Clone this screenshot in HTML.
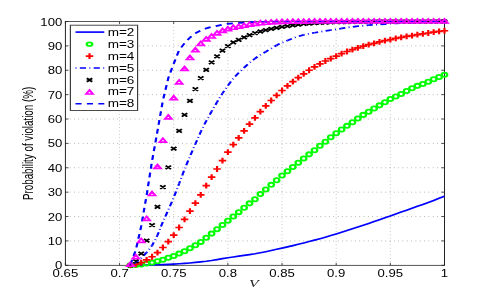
<!DOCTYPE html>
<html><head><meta charset="utf-8"><title>Probability of violation</title>
<style>html,body{margin:0;padding:0;background:#fff;overflow:hidden}body{width:491px;height:300px;font-family:"Liberation Sans",sans-serif}</style></head>
<body>
<svg width="491" height="300" viewBox="0 0 380.620 300" preserveAspectRatio="none" style="display:block;will-change:transform">
<rect x="0" y="0" width="380.620" height="300" fill="#fff"/>
<path d="M92.68 265.3 V21.5 M134.66 265.3 V21.5 M176.64 265.3 V21.5 M218.63 265.3 V21.5 M260.61 265.3 V21.5 M302.59 265.3 V21.5 M50.70 240.92 H344.57 M50.70 216.54 H344.57 M50.70 192.16 H344.57 M50.70 167.78 H344.57 M50.70 143.40 H344.57 M50.70 119.02 H344.57 M50.70 94.64 H344.57 M50.70 70.26 H344.57 M50.70 45.88 H344.57" fill="none" stroke="#000" stroke-opacity="0.45" stroke-width="0.6" stroke-dasharray="0.7 2.65"/>
<path d="M50.70 265.3v-2.4M50.70 21.5v2.4 M92.68 265.3v-2.4M92.68 21.5v2.4 M134.66 265.3v-2.4M134.66 21.5v2.4 M176.64 265.3v-2.4M176.64 21.5v2.4 M218.63 265.3v-2.4M218.63 21.5v2.4 M260.61 265.3v-2.4M260.61 21.5v2.4 M302.59 265.3v-2.4M302.59 21.5v2.4 M344.57 265.3v-2.4M344.57 21.5v2.4 M50.70 265.30h2.4M344.57 265.30h-2.4 M50.70 240.92h2.4M344.57 240.92h-2.4 M50.70 216.54h2.4M344.57 216.54h-2.4 M50.70 192.16h2.4M344.57 192.16h-2.4 M50.70 167.78h2.4M344.57 167.78h-2.4 M50.70 143.40h2.4M344.57 143.40h-2.4 M50.70 119.02h2.4M344.57 119.02h-2.4 M50.70 94.64h2.4M344.57 94.64h-2.4 M50.70 70.26h2.4M344.57 70.26h-2.4 M50.70 45.88h2.4M344.57 45.88h-2.4 M50.70 21.50h2.4M344.57 21.50h-2.4" fill="none" stroke="#111" stroke-width="0.65"/>
<rect x="50.70" y="21.5" width="293.88" height="243.8" fill="none" stroke="#1c1c1c" stroke-width="0.74"/>
<g>
<path d="M101.08 265.29 L105.27 265.24 L109.47 265.18 L113.67 265.09 L117.87 264.95 L122.07 264.77 L126.27 264.57 L130.46 264.34 L134.66 264.08 L138.86 263.78 L143.06 263.40 L147.26 262.95 L151.46 262.44 L155.65 261.88 L159.85 261.28 L164.05 260.53 L168.25 259.62 L172.45 258.65 L176.64 257.74 L180.84 256.94 L185.04 256.18 L189.24 255.43 L193.44 254.64 L197.64 253.76 L201.83 252.77 L206.03 251.69 L210.23 250.53 L214.43 249.33 L218.63 248.11 L222.83 246.88 L227.02 245.60 L231.22 244.29 L235.42 242.95 L239.62 241.57 L243.82 240.15 L248.01 238.69 L252.21 237.17 L256.41 235.59 L260.61 233.97 L264.81 232.31 L269.01 230.60 L273.20 228.85 L277.40 227.07 L281.60 225.27 L285.80 223.44 L290.00 221.60 L294.19 219.73 L298.39 217.81 L302.59 215.88 L306.79 213.96 L310.99 212.07 L315.19 210.18 L319.38 208.27 L323.58 206.35 L327.78 204.39 L331.98 202.40 L336.18 200.39 L340.38 198.36 L344.57 196.30" fill="none" stroke="#0000ff" stroke-width="1.65" stroke-linejoin="round"/>
<circle cx="101.08" cy="265.30" r="2.12" fill="none" stroke="#00ff00" stroke-width="1.8"/><circle cx="105.27" cy="265.06" r="2.12" fill="none" stroke="#00ff00" stroke-width="1.8"/><circle cx="109.47" cy="264.57" r="2.12" fill="none" stroke="#00ff00" stroke-width="1.8"/><circle cx="113.67" cy="263.59" r="2.12" fill="none" stroke="#00ff00" stroke-width="1.8"/><circle cx="117.87" cy="262.62" r="2.12" fill="none" stroke="#00ff00" stroke-width="1.8"/><circle cx="122.07" cy="261.16" r="2.12" fill="none" stroke="#00ff00" stroke-width="1.8"/><circle cx="126.27" cy="259.69" r="2.12" fill="none" stroke="#00ff00" stroke-width="1.8"/><circle cx="130.46" cy="257.74" r="2.12" fill="none" stroke="#00ff00" stroke-width="1.8"/><circle cx="134.66" cy="255.91" r="2.12" fill="none" stroke="#00ff00" stroke-width="1.8"/><circle cx="138.86" cy="253.60" r="2.12" fill="none" stroke="#00ff00" stroke-width="1.8"/><circle cx="143.06" cy="251.16" r="2.12" fill="none" stroke="#00ff00" stroke-width="1.8"/><circle cx="147.26" cy="248.23" r="2.12" fill="none" stroke="#00ff00" stroke-width="1.8"/><circle cx="151.46" cy="245.19" r="2.12" fill="none" stroke="#00ff00" stroke-width="1.8"/><circle cx="155.65" cy="241.90" r="2.12" fill="none" stroke="#00ff00" stroke-width="1.8"/><circle cx="159.85" cy="237.75" r="2.12" fill="none" stroke="#00ff00" stroke-width="1.8"/><circle cx="164.05" cy="233.61" r="2.12" fill="none" stroke="#00ff00" stroke-width="1.8"/><circle cx="168.25" cy="229.22" r="2.12" fill="none" stroke="#00ff00" stroke-width="1.8"/><circle cx="172.45" cy="225.07" r="2.12" fill="none" stroke="#00ff00" stroke-width="1.8"/><circle cx="176.64" cy="220.68" r="2.12" fill="none" stroke="#00ff00" stroke-width="1.8"/><circle cx="180.84" cy="216.54" r="2.12" fill="none" stroke="#00ff00" stroke-width="1.8"/><circle cx="185.04" cy="212.15" r="2.12" fill="none" stroke="#00ff00" stroke-width="1.8"/><circle cx="189.24" cy="207.76" r="2.12" fill="none" stroke="#00ff00" stroke-width="1.8"/><circle cx="193.44" cy="203.37" r="2.12" fill="none" stroke="#00ff00" stroke-width="1.8"/><circle cx="197.64" cy="199.23" r="2.12" fill="none" stroke="#00ff00" stroke-width="1.8"/><circle cx="201.83" cy="194.11" r="2.12" fill="none" stroke="#00ff00" stroke-width="1.8"/><circle cx="206.03" cy="189.48" r="2.12" fill="none" stroke="#00ff00" stroke-width="1.8"/><circle cx="210.23" cy="184.85" r="2.12" fill="none" stroke="#00ff00" stroke-width="1.8"/><circle cx="214.43" cy="180.21" r="2.12" fill="none" stroke="#00ff00" stroke-width="1.8"/><circle cx="218.63" cy="175.58" r="2.12" fill="none" stroke="#00ff00" stroke-width="1.8"/><circle cx="222.83" cy="171.19" r="2.12" fill="none" stroke="#00ff00" stroke-width="1.8"/><circle cx="227.02" cy="167.05" r="2.12" fill="none" stroke="#00ff00" stroke-width="1.8"/><circle cx="231.22" cy="162.66" r="2.12" fill="none" stroke="#00ff00" stroke-width="1.8"/><circle cx="235.42" cy="158.52" r="2.12" fill="none" stroke="#00ff00" stroke-width="1.8"/><circle cx="239.62" cy="154.37" r="2.12" fill="none" stroke="#00ff00" stroke-width="1.8"/><circle cx="243.82" cy="150.23" r="2.12" fill="none" stroke="#00ff00" stroke-width="1.8"/><circle cx="248.01" cy="145.84" r="2.12" fill="none" stroke="#00ff00" stroke-width="1.8"/><circle cx="252.21" cy="141.69" r="2.12" fill="none" stroke="#00ff00" stroke-width="1.8"/><circle cx="256.41" cy="137.31" r="2.12" fill="none" stroke="#00ff00" stroke-width="1.8"/><circle cx="260.61" cy="133.16" r="2.12" fill="none" stroke="#00ff00" stroke-width="1.8"/><circle cx="264.81" cy="129.50" r="2.12" fill="none" stroke="#00ff00" stroke-width="1.8"/><circle cx="269.01" cy="125.85" r="2.12" fill="none" stroke="#00ff00" stroke-width="1.8"/><circle cx="273.20" cy="122.19" r="2.12" fill="none" stroke="#00ff00" stroke-width="1.8"/><circle cx="277.40" cy="118.53" r="2.12" fill="none" stroke="#00ff00" stroke-width="1.8"/><circle cx="281.60" cy="114.88" r="2.12" fill="none" stroke="#00ff00" stroke-width="1.8"/><circle cx="285.80" cy="111.71" r="2.12" fill="none" stroke="#00ff00" stroke-width="1.8"/><circle cx="290.00" cy="108.54" r="2.12" fill="none" stroke="#00ff00" stroke-width="1.8"/><circle cx="294.19" cy="105.37" r="2.12" fill="none" stroke="#00ff00" stroke-width="1.8"/><circle cx="298.39" cy="102.20" r="2.12" fill="none" stroke="#00ff00" stroke-width="1.8"/><circle cx="302.59" cy="99.03" r="2.12" fill="none" stroke="#00ff00" stroke-width="1.8"/><circle cx="306.79" cy="96.59" r="2.12" fill="none" stroke="#00ff00" stroke-width="1.8"/><circle cx="310.99" cy="93.91" r="2.12" fill="none" stroke="#00ff00" stroke-width="1.8"/><circle cx="315.19" cy="90.98" r="2.12" fill="none" stroke="#00ff00" stroke-width="1.8"/><circle cx="319.38" cy="88.30" r="2.12" fill="none" stroke="#00ff00" stroke-width="1.8"/><circle cx="323.58" cy="85.86" r="2.12" fill="none" stroke="#00ff00" stroke-width="1.8"/><circle cx="327.78" cy="83.91" r="2.12" fill="none" stroke="#00ff00" stroke-width="1.8"/><circle cx="331.98" cy="81.72" r="2.12" fill="none" stroke="#00ff00" stroke-width="1.8"/><circle cx="336.18" cy="79.28" r="2.12" fill="none" stroke="#00ff00" stroke-width="1.8"/><circle cx="340.38" cy="77.09" r="2.12" fill="none" stroke="#00ff00" stroke-width="1.8"/><circle cx="344.57" cy="74.65" r="2.12" fill="none" stroke="#00ff00" stroke-width="1.8"/>
<path d="M98.18 265.18H103.98M101.08 262.28V268.08M102.37 264.32H108.17M105.27 261.42V267.22M106.57 262.62H112.37M109.47 259.72V265.52M110.77 259.94H116.57M113.67 257.04V262.84M114.97 256.77H120.77M117.87 253.87V259.67M119.17 252.62H124.97M122.07 249.72V255.52M123.37 247.50H129.17M126.27 244.60V250.40M127.56 241.65H133.36M130.46 238.75V244.55M131.76 235.07H137.56M134.66 232.17V237.97M135.96 227.51H141.76M138.86 224.61V230.41M140.16 219.47H145.96M143.06 216.57V222.37M144.36 211.18H150.16M147.26 208.28V214.08M148.56 203.13H154.36M151.46 200.23V206.03M152.75 194.84H158.55M155.65 191.94V197.74M156.95 185.58H162.75M159.85 182.68V188.48M161.15 177.04H166.95M164.05 174.14V179.94M165.35 169.00H171.15M168.25 166.10V171.90M169.55 160.71H175.35M172.45 157.81V163.61M173.74 152.18H179.54M176.64 149.28V155.08M177.94 144.62H183.74M180.84 141.72V147.52M182.14 137.79H187.94M185.04 134.89V140.69M186.34 130.97H192.14M189.24 128.07V133.87M190.54 124.14H196.34M193.44 121.24V127.04M194.74 117.80H200.54M197.64 114.90V120.70M198.93 111.71H204.73M201.83 108.81V114.61M203.13 105.85H208.93M206.03 102.95V108.75M207.33 100.49H213.13M210.23 97.59V103.39M211.53 95.37H217.33M214.43 92.47V98.27M215.73 90.50H221.53M218.63 87.60V93.40M219.93 85.86H225.73M222.83 82.96V88.76M224.12 81.72H229.92M227.02 78.82V84.62M228.32 77.57H234.12M231.22 74.67V80.47M232.52 73.92H238.32M235.42 71.02V76.82M236.72 70.26H242.52M239.62 67.36V73.16M240.92 66.85H246.72M243.82 63.95V69.75M245.11 63.92H250.91M248.01 61.02V66.82M249.31 61.00H255.11M252.21 58.10V63.90M253.51 58.56H259.31M256.41 55.66V61.46M257.71 56.12H263.51M260.61 53.22V59.02M261.91 53.68H267.71M264.81 50.78V56.58M266.11 51.49H271.91M269.01 48.59V54.39M270.30 49.54H276.10M273.20 46.64V52.44M274.50 47.83H280.30M277.40 44.93V50.73M278.70 46.12H284.50M281.60 43.22V49.02M282.90 44.66H288.70M285.80 41.76V47.56M287.10 43.29H292.90M290.00 40.39V46.19M291.29 41.97H297.09M294.19 39.07V44.87M295.49 40.71H301.29M298.39 37.81V43.61M299.69 39.54H305.49M302.59 36.64V42.44M303.89 38.46H309.69M306.79 35.56V41.36M308.09 37.44H313.89M310.99 34.54V40.34M312.29 36.47H318.09M315.19 33.57V39.37M316.48 35.55H322.28M319.38 32.65V38.45M320.68 34.67H326.48M323.58 31.77V37.57M324.88 33.81H330.68M327.78 30.91V36.71M329.08 33.00H334.88M331.98 30.10V35.90M333.28 32.21H339.08M336.18 29.31V35.11M337.48 31.47H343.28M340.38 28.57V34.37M341.67 30.76H347.47M344.57 27.86V33.66" fill="none" stroke="#ff0000" stroke-width="1.7"/>
<g fill="none" stroke="#0000ff" stroke-dasharray="0.75 2.6 4.8 2.6"><path d="M101.08 265.15L105.30 262.45" stroke-width="1.73" stroke-dashoffset="0.00"/><path d="M105.27 262.46L109.49 258.02" stroke-width="1.72" stroke-dashoffset="4.99"/><path d="M109.47 258.04L113.69 252.53" stroke-width="1.72" stroke-dashoffset="11.08"/><path d="M113.67 252.55L117.88 245.55" stroke-width="1.71" stroke-dashoffset="17.99"/><path d="M117.87 245.58L122.08 235.27" stroke-width="1.70" stroke-dashoffset="26.14"/><path d="M122.07 235.29L126.27 221.87" stroke-width="1.70" stroke-dashoffset="37.24"/><path d="M126.27 221.90L130.47 209.93" stroke-width="1.70" stroke-dashoffset="51.28"/><path d="M130.46 209.95L134.67 197.56" stroke-width="1.70" stroke-dashoffset="63.94"/><path d="M134.66 197.59L138.87 183.59" stroke-width="1.70" stroke-dashoffset="77.00"/><path d="M138.86 183.61L143.07 169.24" stroke-width="1.70" stroke-dashoffset="91.59"/><path d="M143.06 169.27L147.27 156.28" stroke-width="1.70" stroke-dashoffset="106.54"/><path d="M147.26 156.31L151.46 143.87" stroke-width="1.70" stroke-dashoffset="120.16"/><path d="M151.46 143.90L155.66 131.73" stroke-width="1.70" stroke-dashoffset="133.26"/><path d="M155.65 131.76L159.86 120.93" stroke-width="1.70" stroke-dashoffset="146.10"/><path d="M159.85 120.95L164.06 111.30" stroke-width="1.70" stroke-dashoffset="157.70"/><path d="M164.05 111.33L168.26 102.07" stroke-width="1.71" stroke-dashoffset="168.20"/><path d="M168.25 102.10L172.46 93.34" stroke-width="1.71" stroke-dashoffset="178.34"/><path d="M172.45 93.37L176.66 85.55" stroke-width="1.71" stroke-dashoffset="188.03"/><path d="M176.64 85.58L180.86 78.38" stroke-width="1.71" stroke-dashoffset="196.88"/><path d="M180.84 78.41L185.06 72.73" stroke-width="1.72" stroke-dashoffset="205.19"/><path d="M185.04 72.75L189.26 67.57" stroke-width="1.72" stroke-dashoffset="212.23"/><path d="M189.24 67.60L193.46 62.74" stroke-width="1.72" stroke-dashoffset="218.88"/><path d="M193.44 62.76L197.66 58.50" stroke-width="1.72" stroke-dashoffset="225.28"/><path d="M197.64 58.52L201.86 54.81" stroke-width="1.73" stroke-dashoffset="231.24"/><path d="M201.83 54.83L206.06 51.73" stroke-width="1.73" stroke-dashoffset="236.84"/><path d="M206.03 51.74L210.25 48.49" stroke-width="1.73" stroke-dashoffset="242.05"/><path d="M210.23 48.51L214.45 45.23" stroke-width="1.73" stroke-dashoffset="247.35"/><path d="M214.43 45.25L218.65 42.70" stroke-width="1.74" stroke-dashoffset="252.66"/><path d="M218.63 42.71L222.85 40.40" stroke-width="1.74" stroke-dashoffset="257.57"/><path d="M222.83 40.41L227.05 38.24" stroke-width="1.74" stroke-dashoffset="262.36"/><path d="M227.02 38.25L231.25 36.36" stroke-width="1.74" stroke-dashoffset="267.08"/><path d="M231.22 36.38L235.45 34.91" stroke-width="1.74" stroke-dashoffset="271.68"/><path d="M235.42 34.92L239.65 33.74" stroke-width="1.75" stroke-dashoffset="276.12"/><path d="M239.62 33.75L243.85 32.73" stroke-width="1.75" stroke-dashoffset="280.48"/><path d="M243.82 32.74L248.04 31.82" stroke-width="1.75" stroke-dashoffset="284.80"/><path d="M248.01 31.83L252.24 30.93" stroke-width="1.75" stroke-dashoffset="289.09"/><path d="M252.21 30.94L256.44 30.10" stroke-width="1.75" stroke-dashoffset="293.38"/><path d="M256.41 30.10L260.64 29.30" stroke-width="1.75" stroke-dashoffset="297.66"/><path d="M260.61 29.30L264.84 28.44" stroke-width="1.75" stroke-dashoffset="301.94"/><path d="M264.81 28.45L269.03 27.57" stroke-width="1.75" stroke-dashoffset="306.22"/><path d="M269.01 27.58L273.23 26.81" stroke-width="1.75" stroke-dashoffset="310.51"/><path d="M273.20 26.81L277.43 26.21" stroke-width="1.75" stroke-dashoffset="314.78"/><path d="M277.40 26.21L281.63 25.70" stroke-width="1.75" stroke-dashoffset="319.02"/><path d="M281.60 25.70L285.83 25.24" stroke-width="1.75" stroke-dashoffset="323.25"/><path d="M285.80 25.24L290.03 24.81" stroke-width="1.75" stroke-dashoffset="327.47"/><path d="M290.00 24.81L294.22 24.40" stroke-width="1.75" stroke-dashoffset="331.69"/><path d="M294.19 24.40L298.42 24.02" stroke-width="1.75" stroke-dashoffset="335.91"/><path d="M298.39 24.02L302.62 23.69" stroke-width="1.75" stroke-dashoffset="340.12"/><path d="M302.59 23.69L306.82 23.40" stroke-width="1.75" stroke-dashoffset="344.33"/><path d="M306.79 23.40L311.02 23.13" stroke-width="1.75" stroke-dashoffset="348.54"/><path d="M310.99 23.14L315.22 22.89" stroke-width="1.75" stroke-dashoffset="352.75"/><path d="M315.19 22.89L319.41 22.67" stroke-width="1.75" stroke-dashoffset="356.95"/><path d="M319.38 22.67L323.61 22.47" stroke-width="1.75" stroke-dashoffset="361.16"/><path d="M323.58 22.48L327.81 22.30" stroke-width="1.75" stroke-dashoffset="365.36"/><path d="M327.78 22.30L332.01 22.13" stroke-width="1.75" stroke-dashoffset="369.56"/><path d="M331.98 22.13L336.21 21.98" stroke-width="1.75" stroke-dashoffset="373.76"/><path d="M336.18 21.98L340.41 21.85" stroke-width="1.75" stroke-dashoffset="377.97"/><path d="M340.38 21.85L344.60 21.74" stroke-width="1.75" stroke-dashoffset="382.17"/></g>
<path d="M98.98 263.55L103.18 267.05M98.98 267.05L103.18 263.55M103.17 259.41L107.37 262.91M103.17 262.91L107.37 259.41M107.37 251.85L111.57 255.35M107.37 255.35L111.57 251.85M111.57 238.93L115.77 242.43M111.57 242.43L115.77 238.93M115.77 223.32L119.97 226.82M115.77 226.82L119.97 223.32M119.97 205.04L124.17 208.54M119.97 208.54L124.17 205.04M124.17 185.29L128.37 188.79M124.17 188.79L128.37 185.29M128.36 165.54L132.56 169.04M128.36 169.04L132.56 165.54M132.56 146.77L136.76 150.27M132.56 150.27L136.76 146.77M136.76 129.22L140.96 132.72M136.76 132.72L140.96 129.22M140.96 113.13L145.16 116.63M140.96 116.63L145.16 113.13M145.16 99.23L149.36 102.73M145.16 102.73L149.36 99.23M149.36 87.28L153.56 90.78M149.36 90.78L153.56 87.28M153.55 76.31L157.75 79.81M153.55 79.81L157.75 76.31M157.75 68.02L161.95 71.52M157.75 71.52L161.95 68.02M161.95 60.71L166.15 64.21M161.95 64.21L166.15 60.71M166.15 54.61L170.35 58.11M166.15 58.11L170.35 54.61M170.35 48.76L174.55 52.26M170.35 52.26L174.55 48.76M174.54 44.37L178.74 47.87M174.54 47.87L178.74 44.37M178.74 40.72L182.94 44.22M178.74 44.22L182.94 40.72M182.94 38.03L187.14 41.53M182.94 41.53L187.14 38.03M187.14 35.60L191.34 39.10M187.14 39.10L191.34 35.60M191.34 33.40L195.54 36.90M191.34 36.90L195.54 33.40M195.54 31.45L199.74 34.95M195.54 34.95L199.74 31.45M199.73 29.75L203.93 33.25M199.73 33.25L203.93 29.75M203.93 28.37L208.13 31.87M203.93 31.87L208.13 28.37M208.13 27.14L212.33 30.64M208.13 30.64L212.33 27.14M212.33 26.05L216.53 29.55M212.33 29.55L216.53 26.05M216.53 25.11L220.73 28.61M216.53 28.61L220.73 25.11M220.73 24.29L224.93 27.79M220.73 27.79L224.93 24.29M224.92 23.52L229.12 27.02M224.92 27.02L229.12 23.52M229.12 22.83L233.32 26.33M229.12 26.33L233.32 22.83M233.32 22.24L237.52 25.74M233.32 25.74L237.52 22.24M237.52 21.78L241.72 25.28M237.52 25.28L241.72 21.78M241.72 21.42L245.92 24.92M241.72 24.92L245.92 21.42M245.91 21.10L250.11 24.60M245.91 24.60L250.11 21.10M250.11 20.84L254.31 24.34M250.11 24.34L254.31 20.84M254.31 20.62L258.51 24.12M254.31 24.12L258.51 20.62M258.51 20.48L262.71 23.98M258.51 23.98L262.71 20.48M262.71 20.38L266.91 23.88M262.71 23.88L266.91 20.38M266.91 20.29L271.11 23.79M266.91 23.79L271.11 20.29M271.10 20.21L275.30 23.71M271.10 23.71L275.30 20.21M275.30 20.13L279.50 23.63M275.30 23.63L279.50 20.13M279.50 20.07L283.70 23.57M279.50 23.57L283.70 20.07M283.70 20.01L287.90 23.51M283.70 23.51L287.90 20.01M287.90 19.97L292.10 23.47M287.90 23.47L292.10 19.97M292.09 19.93L296.29 23.43M292.09 23.43L296.29 19.93M296.29 19.90L300.49 23.40M296.29 23.40L300.49 19.90M300.49 19.87L304.69 23.37M300.49 23.37L304.69 19.87M304.69 19.85L308.89 23.35M304.69 23.35L308.89 19.85M308.89 19.83L313.09 23.33M308.89 23.33L313.09 19.83M313.09 19.82L317.29 23.32M313.09 23.32L317.29 19.82M317.28 19.80L321.48 23.30M317.28 23.30L321.48 19.80M321.48 19.79L325.68 23.29M321.48 23.29L325.68 19.79M325.68 19.77L329.88 23.27M325.68 23.27L329.88 19.77M329.88 19.76L334.08 23.26M329.88 23.26L334.08 19.76M334.08 19.76L338.28 23.26M334.08 23.26L338.28 19.76M338.28 19.75L342.48 23.25M338.28 23.25L342.48 19.75M342.47 19.75L346.67 23.25M342.47 23.25L346.67 19.75" fill="none" stroke="#000" stroke-width="1.65"/>
<g fill="none" stroke="#0000ff" stroke-dasharray="4.7 4.15"><path d="M101.08 264.49L105.28 250.03" stroke-width="1.70" stroke-dashoffset="0.00"/><path d="M105.27 250.06L109.48 226.17" stroke-width="1.70" stroke-dashoffset="15.03"/><path d="M109.47 226.20L113.68 195.04" stroke-width="1.70" stroke-dashoffset="39.25"/><path d="M113.67 195.07L117.87 160.94" stroke-width="1.70" stroke-dashoffset="70.66"/><path d="M117.87 160.97L122.07 131.06" stroke-width="1.70" stroke-dashoffset="105.02"/><path d="M122.07 131.09L126.27 100.51" stroke-width="1.70" stroke-dashoffset="135.20"/><path d="M126.27 100.54L130.47 78.03" stroke-width="1.70" stroke-dashoffset="166.03"/><path d="M130.46 78.06L134.67 63.73" stroke-width="1.70" stroke-dashoffset="188.90"/><path d="M134.66 63.76L138.87 50.10" stroke-width="1.70" stroke-dashoffset="203.80"/><path d="M138.86 50.13L143.07 43.29" stroke-width="1.71" stroke-dashoffset="218.07"/><path d="M143.06 43.31L147.27 37.54" stroke-width="1.71" stroke-dashoffset="226.07"/><path d="M147.26 37.56L151.48 33.32" stroke-width="1.72" stroke-dashoffset="233.19"/><path d="M151.46 33.34L155.68 30.50" stroke-width="1.73" stroke-dashoffset="239.14"/><path d="M155.65 30.51L159.88 28.34" stroke-width="1.74" stroke-dashoffset="244.21"/><path d="M159.85 28.36L164.08 26.78" stroke-width="1.74" stroke-dashoffset="248.93"/><path d="M164.05 26.79L168.28 25.89" stroke-width="1.75" stroke-dashoffset="253.41"/><path d="M168.25 25.89L172.48 24.70" stroke-width="1.75" stroke-dashoffset="257.70"/><path d="M172.45 24.71L176.67 23.76" stroke-width="1.75" stroke-dashoffset="262.06"/><path d="M176.64 23.77L180.87 23.22" stroke-width="1.75" stroke-dashoffset="266.36"/><path d="M180.84 23.23L185.07 22.84" stroke-width="1.75" stroke-dashoffset="270.60"/><path d="M185.04 22.84L189.27 22.52" stroke-width="1.75" stroke-dashoffset="274.81"/><path d="M189.24 22.52L193.47 22.23" stroke-width="1.75" stroke-dashoffset="279.02"/><path d="M193.44 22.24L197.67 22.01" stroke-width="1.75" stroke-dashoffset="283.23"/><path d="M197.64 22.01L201.86 21.86" stroke-width="1.75" stroke-dashoffset="287.44"/><path d="M201.83 21.87L206.06 21.77" stroke-width="1.75" stroke-dashoffset="291.64"/><path d="M206.03 21.77L210.26 21.68" stroke-width="1.75" stroke-dashoffset="295.84"/><path d="M210.23 21.68L214.46 21.61" stroke-width="1.75" stroke-dashoffset="300.04"/><path d="M214.43 21.61L218.66 21.55" stroke-width="1.75" stroke-dashoffset="304.23"/><path d="M218.63 21.55L222.86 21.51" stroke-width="1.75" stroke-dashoffset="308.43"/><path d="M222.83 21.51L227.05 21.50" stroke-width="1.75" stroke-dashoffset="312.63"/><path d="M227.02 21.50L231.25 21.50" stroke-width="1.75" stroke-dashoffset="316.83"/><path d="M231.22 21.50L235.45 21.50" stroke-width="1.75" stroke-dashoffset="321.03"/><path d="M235.42 21.50L239.65 21.50" stroke-width="1.75" stroke-dashoffset="325.23"/><path d="M239.62 21.50L243.85 21.50" stroke-width="1.75" stroke-dashoffset="329.42"/><path d="M243.82 21.50L248.04 21.50" stroke-width="1.75" stroke-dashoffset="333.62"/><path d="M248.01 21.50L252.24 21.50" stroke-width="1.75" stroke-dashoffset="337.82"/><path d="M252.21 21.50L256.44 21.50" stroke-width="1.75" stroke-dashoffset="342.02"/><path d="M256.41 21.50L260.64 21.50" stroke-width="1.75" stroke-dashoffset="346.22"/><path d="M260.61 21.50L264.84 21.50" stroke-width="1.75" stroke-dashoffset="350.42"/><path d="M264.81 21.50L269.04 21.50" stroke-width="1.75" stroke-dashoffset="354.61"/><path d="M269.01 21.50L273.23 21.50" stroke-width="1.75" stroke-dashoffset="358.81"/><path d="M273.20 21.50L277.43 21.50" stroke-width="1.75" stroke-dashoffset="363.01"/><path d="M277.40 21.50L281.63 21.50" stroke-width="1.75" stroke-dashoffset="367.21"/><path d="M281.60 21.50L285.83 21.50" stroke-width="1.75" stroke-dashoffset="371.41"/><path d="M285.80 21.50L290.03 21.50" stroke-width="1.75" stroke-dashoffset="375.60"/><path d="M290.00 21.50L294.22 21.50" stroke-width="1.75" stroke-dashoffset="379.80"/><path d="M294.19 21.50L298.42 21.50" stroke-width="1.75" stroke-dashoffset="384.00"/><path d="M298.39 21.50L302.62 21.50" stroke-width="1.75" stroke-dashoffset="388.20"/><path d="M302.59 21.50L306.82 21.50" stroke-width="1.75" stroke-dashoffset="392.40"/><path d="M306.79 21.50L311.02 21.50" stroke-width="1.75" stroke-dashoffset="396.60"/><path d="M310.99 21.50L315.22 21.50" stroke-width="1.75" stroke-dashoffset="400.79"/><path d="M315.19 21.50L319.41 21.50" stroke-width="1.75" stroke-dashoffset="404.99"/><path d="M319.38 21.50L323.61 21.50" stroke-width="1.75" stroke-dashoffset="409.19"/><path d="M323.58 21.50L327.81 21.50" stroke-width="1.75" stroke-dashoffset="413.39"/><path d="M327.78 21.50L332.01 21.50" stroke-width="1.75" stroke-dashoffset="417.59"/><path d="M331.98 21.50L336.21 21.50" stroke-width="1.75" stroke-dashoffset="421.78"/><path d="M336.18 21.50L340.41 21.50" stroke-width="1.75" stroke-dashoffset="425.98"/><path d="M340.38 21.50L344.60 21.50" stroke-width="1.75" stroke-dashoffset="430.18"/></g>
<path d="M101.08 262.30L103.68 266.20L98.48 266.20ZM105.27 254.74L107.87 258.64L102.67 258.64ZM109.47 238.41L112.07 242.31L106.87 242.31ZM113.67 216.47L116.27 220.37L111.07 220.37ZM117.87 191.60L120.47 195.50L115.27 195.50ZM122.07 164.54L124.67 168.44L119.47 168.44ZM126.27 138.21L128.87 142.11L123.67 142.11ZM130.46 115.04L133.06 118.94L127.86 118.94ZM134.66 95.78L137.26 99.68L132.06 99.68ZM138.86 79.94L141.46 83.84L136.26 83.84ZM143.06 66.53L145.66 70.43L140.46 70.43ZM147.26 55.56L149.86 59.46L144.66 59.46ZM151.46 47.76L154.06 51.66L148.86 51.66ZM155.65 41.42L158.25 45.32L153.05 45.32ZM159.85 37.03L162.45 40.93L157.25 40.93ZM164.05 34.10L166.65 38.00L161.45 38.00ZM168.25 30.93L170.85 34.83L165.65 34.83ZM172.45 28.50L175.05 32.40L169.85 32.40ZM176.64 26.79L179.24 30.69L174.04 30.69ZM180.84 25.33L183.44 29.23L178.24 29.23ZM185.04 24.35L187.64 28.25L182.44 28.25ZM189.24 23.38L191.84 27.28L186.64 27.28ZM193.44 22.16L196.04 26.06L190.84 26.06ZM197.64 21.43L200.24 25.33L195.04 25.33ZM201.83 20.82L204.43 24.72L199.23 24.72ZM206.03 20.37L208.63 24.27L203.43 24.27ZM210.23 19.96L212.83 23.86L207.63 23.86ZM214.43 19.65L217.03 23.55L211.83 23.55ZM218.63 19.47L221.23 23.37L216.03 23.37ZM222.83 19.38L225.43 23.28L220.23 23.28ZM227.02 19.30L229.62 23.20L224.42 23.20ZM231.22 19.23L233.82 23.13L228.62 23.13ZM235.42 19.17L238.02 23.07L232.82 23.07ZM239.62 19.11L242.22 23.01L237.02 23.01ZM243.82 19.07L246.42 22.97L241.22 22.97ZM248.01 19.03L250.61 22.93L245.41 22.93ZM252.21 19.01L254.81 22.91L249.61 22.91ZM256.41 18.99L259.01 22.89L253.81 22.89ZM260.61 18.99L263.21 22.89L258.01 22.89ZM264.81 18.99L267.41 22.89L262.21 22.89ZM269.01 18.99L271.61 22.89L266.41 22.89ZM273.20 18.99L275.80 22.89L270.60 22.89ZM277.40 18.99L280.00 22.89L274.80 22.89ZM281.60 18.99L284.20 22.89L279.00 22.89ZM285.80 18.99L288.40 22.89L283.20 22.89ZM290.00 18.99L292.60 22.89L287.40 22.89ZM294.19 18.99L296.79 22.89L291.59 22.89ZM298.39 18.99L300.99 22.89L295.79 22.89ZM302.59 18.99L305.19 22.89L299.99 22.89ZM306.79 18.99L309.39 22.89L304.19 22.89ZM310.99 18.99L313.59 22.89L308.39 22.89ZM315.19 18.99L317.79 22.89L312.59 22.89ZM319.38 18.99L321.98 22.89L316.78 22.89ZM323.58 18.99L326.18 22.89L320.98 22.89ZM327.78 18.99L330.38 22.89L325.18 22.89ZM331.98 18.99L334.58 22.89L329.38 22.89ZM336.18 18.99L338.78 22.89L333.58 22.89ZM340.38 18.99L342.98 22.89L337.78 22.89ZM344.57 18.99L347.17 22.89L341.97 22.89Z" fill="none" stroke="#ff00ff" stroke-width="1.65" stroke-linejoin="miter"/>
<g fill="none" stroke="#0000ff" stroke-dasharray="4.7 4.15" stroke-opacity="0.5"><path d="M101.08 264.49L105.28 250.03" stroke-width="0.97" stroke-dashoffset="0.00"/><path d="M105.27 250.06L109.48 226.17" stroke-width="0.97" stroke-dashoffset="15.03"/><path d="M109.47 226.20L113.68 195.04" stroke-width="0.97" stroke-dashoffset="39.25"/><path d="M113.67 195.07L117.87 160.94" stroke-width="0.97" stroke-dashoffset="70.66"/><path d="M117.87 160.97L122.07 131.06" stroke-width="0.97" stroke-dashoffset="105.02"/><path d="M122.07 131.09L126.27 100.51" stroke-width="0.97" stroke-dashoffset="135.20"/><path d="M126.27 100.54L130.47 78.03" stroke-width="0.97" stroke-dashoffset="166.03"/><path d="M130.46 78.06L134.67 63.73" stroke-width="0.97" stroke-dashoffset="188.90"/><path d="M134.66 63.76L138.87 50.10" stroke-width="0.97" stroke-dashoffset="203.80"/><path d="M138.86 50.13L143.07 43.29" stroke-width="0.98" stroke-dashoffset="218.07"/><path d="M143.06 43.31L147.27 37.54" stroke-width="0.98" stroke-dashoffset="226.07"/><path d="M147.26 37.56L151.48 33.32" stroke-width="0.98" stroke-dashoffset="233.19"/><path d="M151.46 33.34L155.68 30.50" stroke-width="0.99" stroke-dashoffset="239.14"/><path d="M155.65 30.51L159.88 28.34" stroke-width="0.99" stroke-dashoffset="244.21"/><path d="M159.85 28.36L164.08 26.78" stroke-width="1.00" stroke-dashoffset="248.93"/><path d="M164.05 26.79L168.28 25.89" stroke-width="1.00" stroke-dashoffset="253.41"/><path d="M168.25 25.89L172.48 24.70" stroke-width="1.00" stroke-dashoffset="257.70"/><path d="M172.45 24.71L176.67 23.76" stroke-width="1.00" stroke-dashoffset="262.06"/><path d="M176.64 23.77L180.87 23.22" stroke-width="1.00" stroke-dashoffset="266.36"/><path d="M180.84 23.23L185.07 22.84" stroke-width="1.00" stroke-dashoffset="270.60"/><path d="M185.04 22.84L189.27 22.52" stroke-width="1.00" stroke-dashoffset="274.81"/><path d="M189.24 22.52L193.47 22.23" stroke-width="1.00" stroke-dashoffset="279.02"/><path d="M193.44 22.24L197.67 22.01" stroke-width="1.00" stroke-dashoffset="283.23"/><path d="M197.64 22.01L201.86 21.86" stroke-width="1.00" stroke-dashoffset="287.44"/><path d="M201.83 21.87L206.06 21.77" stroke-width="1.00" stroke-dashoffset="291.64"/><path d="M206.03 21.77L210.26 21.68" stroke-width="1.00" stroke-dashoffset="295.84"/><path d="M210.23 21.68L214.46 21.61" stroke-width="1.00" stroke-dashoffset="300.04"/><path d="M214.43 21.61L218.66 21.55" stroke-width="1.00" stroke-dashoffset="304.23"/><path d="M218.63 21.55L222.86 21.51" stroke-width="1.00" stroke-dashoffset="308.43"/><path d="M222.83 21.51L227.05 21.50" stroke-width="1.00" stroke-dashoffset="312.63"/><path d="M227.02 21.50L231.25 21.50" stroke-width="1.00" stroke-dashoffset="316.83"/><path d="M231.22 21.50L235.45 21.50" stroke-width="1.00" stroke-dashoffset="321.03"/><path d="M235.42 21.50L239.65 21.50" stroke-width="1.00" stroke-dashoffset="325.23"/><path d="M239.62 21.50L243.85 21.50" stroke-width="1.00" stroke-dashoffset="329.42"/><path d="M243.82 21.50L248.04 21.50" stroke-width="1.00" stroke-dashoffset="333.62"/><path d="M248.01 21.50L252.24 21.50" stroke-width="1.00" stroke-dashoffset="337.82"/><path d="M252.21 21.50L256.44 21.50" stroke-width="1.00" stroke-dashoffset="342.02"/><path d="M256.41 21.50L260.64 21.50" stroke-width="1.00" stroke-dashoffset="346.22"/><path d="M260.61 21.50L264.84 21.50" stroke-width="1.00" stroke-dashoffset="350.42"/><path d="M264.81 21.50L269.04 21.50" stroke-width="1.00" stroke-dashoffset="354.61"/><path d="M269.01 21.50L273.23 21.50" stroke-width="1.00" stroke-dashoffset="358.81"/><path d="M273.20 21.50L277.43 21.50" stroke-width="1.00" stroke-dashoffset="363.01"/><path d="M277.40 21.50L281.63 21.50" stroke-width="1.00" stroke-dashoffset="367.21"/><path d="M281.60 21.50L285.83 21.50" stroke-width="1.00" stroke-dashoffset="371.41"/><path d="M285.80 21.50L290.03 21.50" stroke-width="1.00" stroke-dashoffset="375.60"/><path d="M290.00 21.50L294.22 21.50" stroke-width="1.00" stroke-dashoffset="379.80"/><path d="M294.19 21.50L298.42 21.50" stroke-width="1.00" stroke-dashoffset="384.00"/><path d="M298.39 21.50L302.62 21.50" stroke-width="1.00" stroke-dashoffset="388.20"/><path d="M302.59 21.50L306.82 21.50" stroke-width="1.00" stroke-dashoffset="392.40"/><path d="M306.79 21.50L311.02 21.50" stroke-width="1.00" stroke-dashoffset="396.60"/><path d="M310.99 21.50L315.22 21.50" stroke-width="1.00" stroke-dashoffset="400.79"/><path d="M315.19 21.50L319.41 21.50" stroke-width="1.00" stroke-dashoffset="404.99"/><path d="M319.38 21.50L323.61 21.50" stroke-width="1.00" stroke-dashoffset="409.19"/><path d="M323.58 21.50L327.81 21.50" stroke-width="1.00" stroke-dashoffset="413.39"/><path d="M327.78 21.50L332.01 21.50" stroke-width="1.00" stroke-dashoffset="417.59"/><path d="M331.98 21.50L336.21 21.50" stroke-width="1.00" stroke-dashoffset="421.78"/><path d="M336.18 21.50L340.41 21.50" stroke-width="1.00" stroke-dashoffset="425.98"/><path d="M340.38 21.50L344.60 21.50" stroke-width="1.00" stroke-dashoffset="430.18"/></g>
</g>
<g font-family="Liberation Sans, sans-serif" font-size="10" fill="#000">
<text transform="translate(50.70 276.90) scale(1.02 1)" text-anchor="middle">0.65</text>
<text transform="translate(92.68 276.90) scale(1.02 1)" text-anchor="middle">0.7</text>
<text transform="translate(134.66 276.90) scale(1.02 1)" text-anchor="middle">0.75</text>
<text transform="translate(176.64 276.90) scale(1.02 1)" text-anchor="middle">0.8</text>
<text transform="translate(218.63 276.90) scale(1.02 1)" text-anchor="middle">0.85</text>
<text transform="translate(260.61 276.90) scale(1.02 1)" text-anchor="middle">0.9</text>
<text transform="translate(302.59 276.90) scale(1.02 1)" text-anchor="middle">0.95</text>
<text transform="translate(344.57 276.90) scale(1.02 1)" text-anchor="middle">1</text>
<text transform="translate(48.29 269.35) scale(1.02 1)" text-anchor="end">0</text>
<text transform="translate(48.29 244.97) scale(1.02 1)" text-anchor="end">10</text>
<text transform="translate(48.29 220.59) scale(1.02 1)" text-anchor="end">20</text>
<text transform="translate(48.29 196.21) scale(1.02 1)" text-anchor="end">30</text>
<text transform="translate(48.29 171.83) scale(1.02 1)" text-anchor="end">40</text>
<text transform="translate(48.29 147.45) scale(1.02 1)" text-anchor="end">50</text>
<text transform="translate(48.29 123.07) scale(1.02 1)" text-anchor="end">60</text>
<text transform="translate(48.29 98.69) scale(1.02 1)" text-anchor="end">70</text>
<text transform="translate(48.29 74.31) scale(1.02 1)" text-anchor="end">80</text>
<text transform="translate(48.29 49.93) scale(1.02 1)" text-anchor="end">90</text>
<text transform="translate(48.29 25.55) scale(1.02 1)" text-anchor="end">100</text>
<text transform="translate(25.27 143.40) rotate(-90) scale(0.98 1.1)" text-anchor="middle">Probability of violation (%)</text>
</g>
<text transform="translate(196.82 286.9) scale(1.08 1)" text-anchor="middle" font-family="Liberation Serif, serif" font-style="italic" font-size="11.3" fill="#222">V</text>
<rect x="54.57" y="25.2" width="52.09" height="85.3" fill="#fff" stroke="#3a3a3a" stroke-width="0.9"/>
<path d="M58.53 32.1H80.85" stroke="#0000ff" stroke-width="1.65" fill="none"/>
<ellipse cx="69.39" cy="44.2" rx="2.12" ry="1.75" fill="none" stroke="#00ff00" stroke-width="1.8"/>
<path d="M66.49 56.10H72.29M69.39 53.20V59.00" fill="none" stroke="#ff0000" stroke-width="1.7"/>
<path d="M58.53 68.0H80.85" stroke="#0000ff" stroke-width="1.65" fill="none" stroke-dasharray="0.75 2.6 4.8 2.6"/>
<path d="M67.29 78.25L71.49 81.75M67.29 81.75L71.49 78.25" fill="none" stroke="#000" stroke-width="1.65"/>
<path d="M69.39 90.06L71.99 93.96L66.79 93.96Z" fill="none" stroke="#ff00ff" stroke-width="1.65"/>
<path d="M58.53 103.75H80.85" stroke="#0000ff" stroke-width="1.65" fill="none" stroke-dasharray="4.7 4.15"/>
<g font-family="Liberation Sans, sans-serif" font-size="10" fill="#000">
<text transform="translate(83.49 35.60) scale(1.05 1)" text-anchor="start">m=2</text>
<text transform="translate(83.49 47.70) scale(1.05 1)" text-anchor="start">m=3</text>
<text transform="translate(83.49 59.60) scale(1.05 1)" text-anchor="start">m=4</text>
<text transform="translate(83.49 71.50) scale(1.05 1)" text-anchor="start">m=5</text>
<text transform="translate(83.49 83.50) scale(1.05 1)" text-anchor="start">m=6</text>
<text transform="translate(83.49 95.10) scale(1.05 1)" text-anchor="start">m=7</text>
<text transform="translate(83.49 107.25) scale(1.05 1)" text-anchor="start">m=8</text>
</g>
</svg>
</body></html>
